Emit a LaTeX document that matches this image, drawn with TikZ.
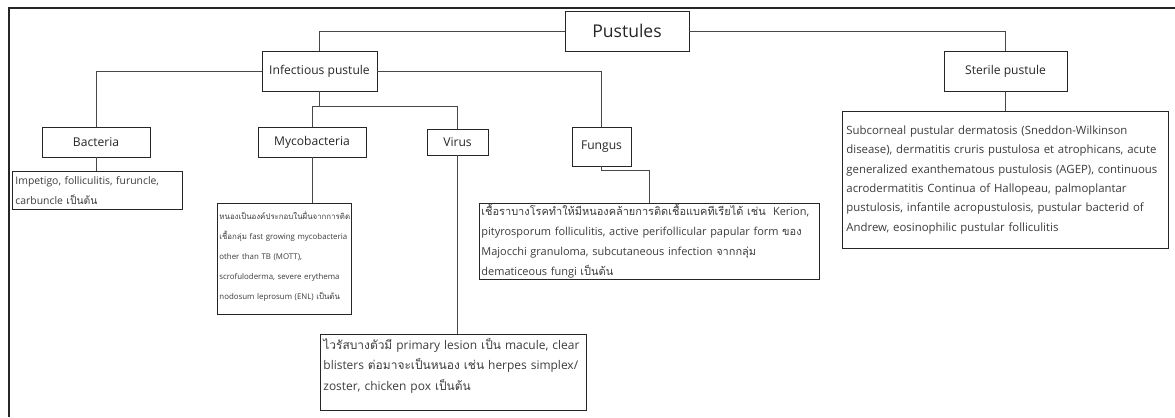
\documentclass[tikz,border=0pt]{standalone}
\usepackage{fontspec}
\setmainfont{Open Sans}
\newfontfamily\thaifont[Script=Thai,Scale=1.0]{Loma}
\newcommand{\thaitxt}[1]{{\thaifont #1}}
\usetikzlibrary{calc,positioning}
\definecolor{pusink}{HTML}{262626}
\definecolor{pustext}{HTML}{3C3C3C}
\definecolor{pusline}{HTML}{484848}

\begin{document}
\begin{tikzpicture}[x=0.025cm,y=-0.025cm,line join=miter,
  head/.style={draw=pusink,line width=0.65pt,fill=white,text=pusink,inner sep=0pt,
    font=\fontsize{8.6}{10}\selectfont},
  desc/.style={draw=pusink,line width=0.6pt,fill=white,text=pustext,anchor=north west,
    align=left,inner xsep=0.075cm,inner ysep=0pt,font=\fontsize{7.8}{13.75}\selectfont},
  link/.style={draw=pusline,line width=0.6pt}]
\path[use as bounding box] (0,0) rectangle (1175,417);
\fill[white] (0,0) rectangle (1175,417);
% frame of the page
\draw[pusink,line width=2.1pt] (9,417) -- (9,8) -- (1175,8);

% headings
\node[head,minimum width=3.1cm,minimum height=1cm,font=\fontsize{12.5}{14}\selectfont] (pust) at (627,31) {Pustules};
\node[head,minimum width=2.875cm,minimum height=1cm] (inf) at (319.5,71) {Infectious pustule};
\node[head,minimum width=3.075cm,minimum height=1cm] (ster) at (1005.5,71) {Sterile pustule};
\node[head,minimum width=2.7cm,minimum height=0.75cm] (bac) at (96,142) {Bacteria};
\node[head,minimum width=2.7cm,minimum height=0.75cm] (myc) at (312,142) {Mycobacteria};
\node[head,minimum width=1.525cm,minimum height=0.65cm] (vir) at (457.5,142) {Virus};
\node[head,minimum width=1.475cm,minimum height=0.975cm] (fun) at (601.5,146.5) {Fungus};

% descriptions
\node[desc,text width=4.1cm,minimum height=0.95cm,font=\fontsize{7.4}{13.75}\selectfont] (bacd) at (12,171)
  {Impetigo, folliculitis, furuncle,\\carbuncle \thaitxt{เป็นต้น}};
% small type, lines spread over the box
\node[desc,inner xsep=0.05cm,text width=3.25cm,text height=0.4cm,text depth=2.375cm,
  font=\fontsize{5.6}{14.2}\selectfont] (mycd) at (217,203)
  {\thaitxt{หนองเป็นองค์ประกอบในผื่นจากการติด}\\
   \thaitxt{เชื้อกลุ่ม} fast growing mycobacteria\\
   other than TB (MOTT),\\
   scrofuloderma, severe erythema\\
   nodosum leprosum (ENL) \thaitxt{เป็นต้น}};
% larger type, from the top
\node[desc,text width=6.5cm,text height=0.375cm,text depth=1.525cm,
  font=\fontsize{8.5}{14.6}\selectfont] (vird) at (320,334)
  {\thaitxt{ไวรัสบางตัวมี} primary lesion \thaitxt{เป็น} macule, clear\\
   blisters \thaitxt{ต่อมาจะเป็นหนอง เช่น} herpes simplex/\\
   zoster, chicken pox \thaitxt{เป็นต้น}};
\node[desc,inner xsep=0.05cm,text width=8.4cm,minimum height=1.9cm,font=\fontsize{7.8}{14.2}\selectfont] (fund) at (479,203)
  {\thaitxt{เชื้อราบางโรคทำให้มีหนองคล้ายการติดเชื้อแบคทีเรียได้ เช่น}\ \ Kerion,\\
   pityrosporum folliculitis, active perifollicular papular form \thaitxt{ของ}\\
   Majocchi granuloma, subcutaneous infection \thaitxt{จากกลุ่ม}\\
   dematiceous fungi \thaitxt{เป็นต้น}};
\node[desc,minimum height=3.425cm,inner xsep=0.1cm,text width=7.95cm,
  font=\fontsize{8.1}{13.75}\selectfont] (sterd) at (842,111)
  {Subcorneal pustular dermatosis (Sneddon-Wilkinson\\
   disease), dermatitis cruris pustulosa et atrophicans, acute\\
   generalized exanthematous pustulosis (AGEP), continuous\\
   acrodermatitis Continua of Hallopeau, palmoplantar\\
   pustulosis, infantile acropustulosis, pustular bacterid of\\
   Andrew, eosinophilic pustular folliculitis};

% connectors
\draw[link] (pust.west) -| (inf.north);
\draw[link] (pust.east) -| (ster.north);
\draw[link] (inf.west) -| (bac.north);
\draw[link] (inf.east) -| (fun.north);
\coordinate (split) at ($(inf.south)+(0,15)$);
\draw[link] (inf.south) -- (split);
\draw[link] (myc.north) |- (split) -| (vir.north);
\draw[link] (bac.south) -- (bac.south |- bacd.north);
\draw[link] (myc.south) -- (myc.south |- mycd.north);
\draw[link] (vir.south) -- (vir.south |- vird.north);
\draw[link] (fun.south) -- ++(0,4) -| (fund.north);
\draw[link] (ster.south) -- (sterd.north);
\end{tikzpicture}
\end{document}
